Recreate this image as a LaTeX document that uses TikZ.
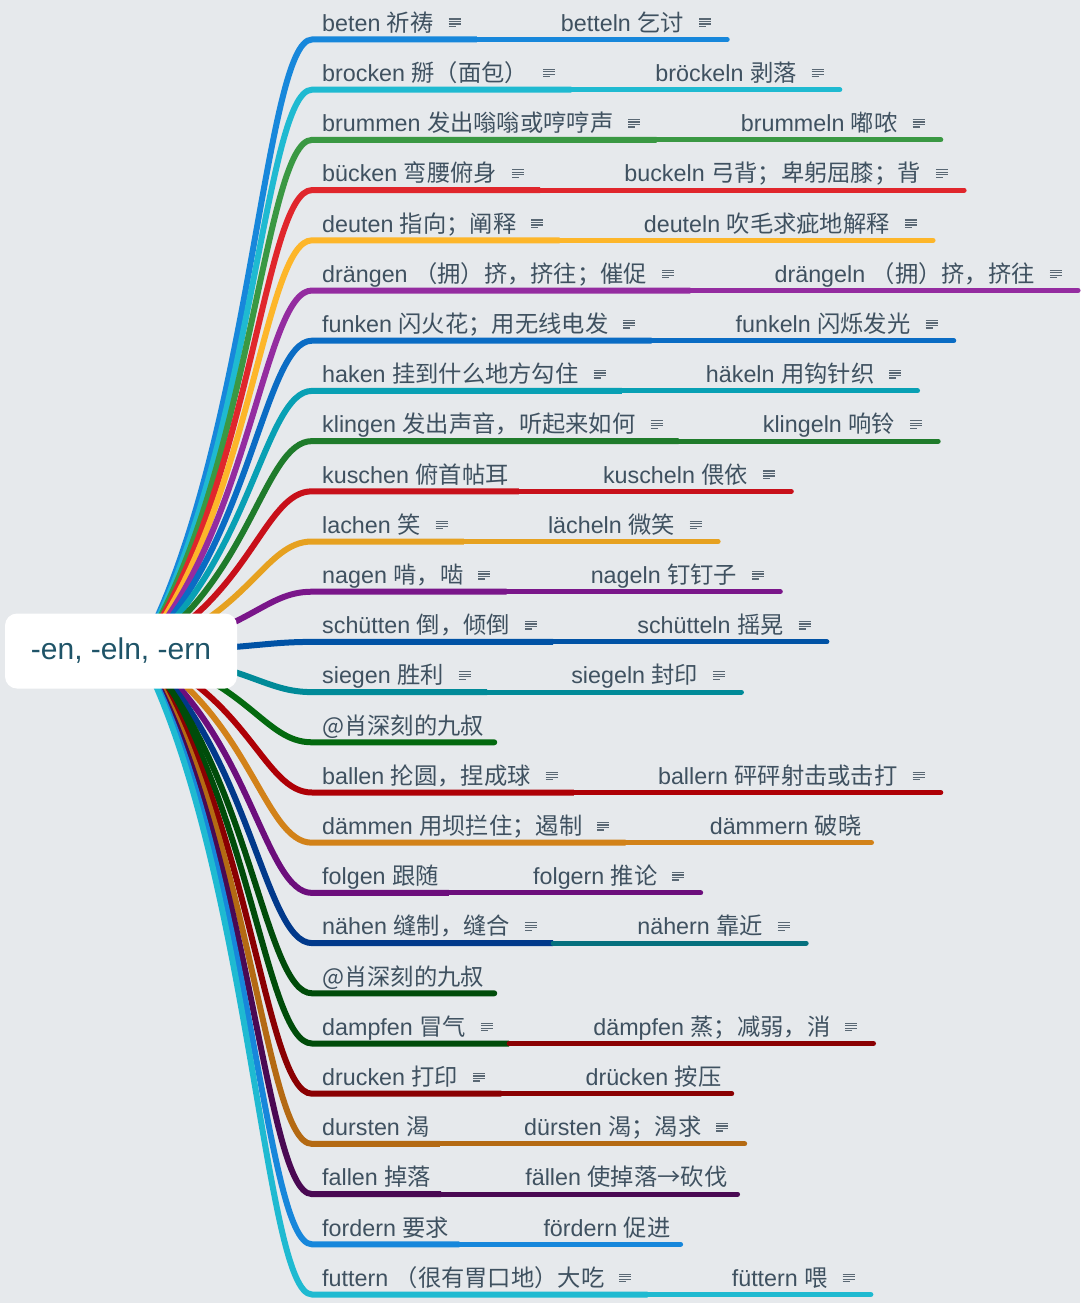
\documentclass[tikz,border=0pt]{standalone}
\usepackage{fontspec}
\setmainfont{Liberation Sans}
\newfontfamily\cjk{Noto Sans CJK SC}
\usetikzlibrary{positioning,backgrounds,calc}
\newcommand{\zh}[1]{{\cjk #1}}
\definecolor{BgGray}{HTML}{E6E9EC}
\definecolor{LeafInk}{HTML}{3F5160}
\definecolor{RootInk}{HTML}{1F5468}
\definecolor{NoteInk}{HTML}{5A6874}
\definecolor{BBlue}{HTML}{1787DB}
\definecolor{BCyan}{HTML}{1FBAD1}
\definecolor{BGreen}{HTML}{3A9843}
\definecolor{BRed}{HTML}{E0262C}
\definecolor{BAmber}{HTML}{FDB62A}
\definecolor{BViolet}{HTML}{942CA0}
\definecolor{BCobalt}{HTML}{0A6CC4}
\definecolor{BTeal}{HTML}{08A0B4}
\definecolor{BForest}{HTML}{1F7B2B}
\definecolor{BCrimson}{HTML}{C8101A}
\definecolor{BOchre}{HTML}{E6A120}
\definecolor{BPlum}{HTML}{7A168A}
\definecolor{BNavy}{HTML}{0052A5}
\definecolor{BPetrol}{HTML}{008A98}
\definecolor{BPine}{HTML}{03690F}
\definecolor{BMaroon}{HTML}{AE0006}
\definecolor{BCopper}{HTML}{D28219}
\definecolor{BGrape}{HTML}{6C0E7C}
\definecolor{BIndigo}{HTML}{01398B}
\definecolor{BSea}{HTML}{05707E}
\definecolor{BMoss}{HTML}{004C0A}
\definecolor{BWine}{HTML}{8A0002}
\definecolor{BRust}{HTML}{B46A13}
\definecolor{BAubergine}{HTML}{4A0953}
% small note icon after a topic
\newcommand{\note}{\hspace{15pt}\raisebox{4pt}{\color{NoteInk}\vbox{\hrule width 12pt height 1.3pt\vskip1.2pt\hrule width 12pt height 1.3pt\vskip1.2pt\hrule width 12pt height 1.3pt\vskip1.2pt\hrule width 7pt height 1.3pt}}\hbox to 6pt{}}
\begin{document}
\begin{tikzpicture}[x=1pt,y=-1pt,
    leaf/.style={anchor=south west,inner xsep=10pt,inner ysep=0pt,text height=17pt,text depth=8pt,text=LeafInk,font=\fontsize{23.3}{28}\selectfont},
    branch/.style={line width=6pt},
    twig/.style={line width=5pt,line cap=round}]
\useasboundingbox (0,0) rectangle (1080,1303);
\node[fill=white,rounded corners=12pt,minimum width=232pt,minimum height=75pt,text=RootInk,font=\fontsize{30}{36}\selectfont] (root) at (121,651) {\raisebox{-2pt}{-en, -eln, -ern}};
\coordinate (hub) at (140,652);
\begin{pgfonlayer}{background}
\fill[BgGray] (0,0) rectangle (1080,1303);
\foreach \i/\ca/\cb/\ta/\tb in {
    1/BBlue/BBlue/{beten \zh{祈祷}\note}/{betteln \zh{乞讨}\note},
    2/BCyan/BCyan/{brocken \zh{掰（面包）}\note}/{bröckeln \zh{剥落}\note},
    3/BGreen/BGreen/{brummen \zh{发出嗡嗡或哼哼声}\note}/{brummeln \zh{嘟哝}\note},
    4/BRed/BRed/{bücken \zh{弯腰俯身}\note}/{buckeln \zh{弓背；卑躬屈膝；背}\note},
    5/BAmber/BAmber/{deuten \zh{指向；阐释}\note}/{deuteln \zh{吹毛求疵地解释}\note},
    6/BViolet/BViolet/{drängen \zh{（拥）挤，挤往；催促}\note}/{drängeln \zh{（拥）挤，挤往}\note},
    7/BCobalt/BCobalt/{funken \zh{闪火花；用无线电发}\note}/{funkeln \zh{闪烁发光}\note},
    8/BTeal/BTeal/{haken \zh{挂到什么地方勾住}\note}/{häkeln \zh{用钩针织}\note},
    9/BForest/BForest/{klingen \zh{发出声音，听起来如何}\note}/{klingeln \zh{响铃}\note},
    10/BCrimson/BCrimson/{kuschen \zh{俯首帖耳}}/{kuscheln \zh{偎依}\note},
    11/BOchre/BOchre/{lachen \zh{笑}\note}/{lächeln \zh{微笑}\note},
    12/BPlum/BPlum/{nagen \zh{啃，啮}\note}/{nageln \zh{钉钉子}\note},
    13/BNavy/BNavy/{schütten \zh{倒，倾倒}\note}/{schütteln \zh{摇晃}\note},
    14/BPetrol/BPetrol/{siegen \zh{胜利}\note}/{siegeln \zh{封印}\note},
    16/BMaroon/BMaroon/{ballen \zh{抡圆，捏成球}\note}/{ballern \zh{砰砰射击或击打}\note},
    17/BCopper/BCopper/{dämmen \zh{用坝拦住；遏制}\note}/{dämmern \zh{破晓}},
    18/BGrape/BGrape/{folgen \zh{跟随}}/{folgern \zh{推论}\note},
    19/BIndigo/BSea/{nähen \zh{缝制，缝合}\note}/{nähern \zh{靠近}\note},
    21/BMoss/BWine/{dampfen \zh{冒气}\note}/{dämpfen \zh{蒸；减弱，消}\note},
    22/BWine/BWine/{drucken \zh{打印}\note}/{drücken \zh{按压}},
    23/BRust/BRust/{dursten \zh{渴}}/{dürsten \zh{渴；渴求}\note},
    24/BAubergine/BAubergine/{fallen \zh{掉落}}/{fällen \zh{使掉落→砍伐}},
    25/BBlue/BBlue/{fordern \zh{要求}}/{fördern \zh{促进}},
    26/BCyan/BCyan/{futtern \zh{（很有胃口地）大吃}\note}/{füttern \zh{喂}\note}}
{
    \pgfmathsetmacro\yu{39.5+(\i-1)*50.2}
    \node[leaf] (a\i) at (312,\yu) {\ta};
    \node[leaf,right=74pt of a\i] (b\i) {\tb};
    \draw[branch,\ca] (hub) .. controls +(110,{0.33*(\yu-652)}) and +(-48,0) .. (a\i.south west) -- (a\i.south east);
    \draw[twig,\cb] (a\i.south east) -- (b\i.south east);
}
% the two signature rows
\foreach \i/\ca in {15/BPine,20/BMoss}
{
    \pgfmathsetmacro\yu{39.5+(\i-1)*50.2}
    \node[leaf] (a\i) at (312,\yu) {\zh{@肖深刻的九叔}};
    \draw[branch,\ca,line cap=round] (hub) .. controls +(110,{0.33*(\yu-652)}) and +(-48,0) .. (a\i.south west) -- (a\i.south east);
}
\end{pgfonlayer}
\end{tikzpicture}
\end{document}
